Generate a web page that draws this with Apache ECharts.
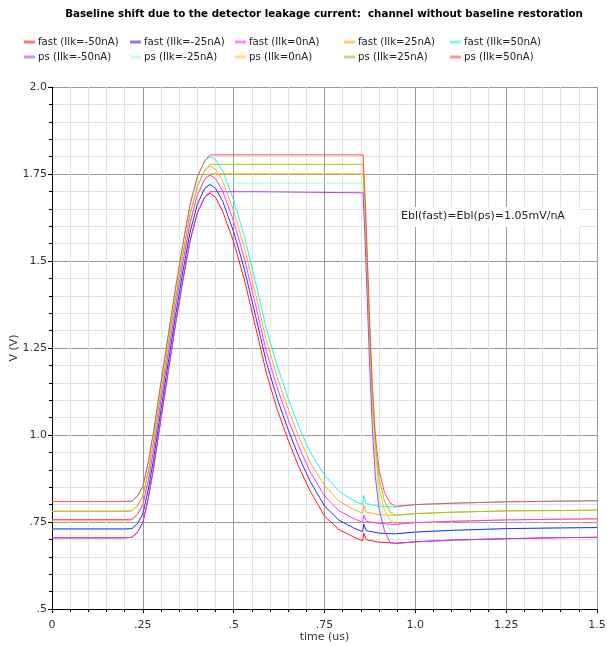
<!DOCTYPE html>
<html><head><meta charset="utf-8">
<script src="https://cdn.jsdelivr.net/npm/echarts@6/dist/echarts.min.js"></script>
<style>html,body{margin:0;padding:0;background:#fff}#c{width:607px;height:646px}</style>
</head><body><div id="c"></div>
<script>
const TITLE = 'Baseline shift due to the detector leakage current:  channel without baseline restoration';
const NOTE = 'Ebl(fast)=Ebl(ps)=1.05mV/nA';
const X_TICKS = {0:'0',0.25:'.25',0.5:'.5',0.75:'.75',1:'1.0',1.25:'1.25',1.5:'1.5'};
const Y_TICKS = {0.5:'.5',0.75:'.75',1:'1.0',1.25:'1.25',1.5:'1.5',1.75:'1.75',2:'2.0'};

const NAMES = ['fast (Ilk=-50nA)','fast (Ilk=-25nA)','fast (Ilk=0nA)','fast (Ilk=25nA)','fast (Ilk=50nA)',
               'ps (Ilk=-50nA)','ps (Ilk=-25nA)','ps (Ilk=0nA)','ps (Ilk=25nA)','ps (Ilk=50nA)'];

const T_FAST = [0,0.2,0.22,0.235,0.25,0.265,0.28,0.30,0.32,0.34,0.36,0.38,0.40,0.42,0.435,0.45,0.47,0.50,0.53,0.56,0.59,0.62,0.65,0.68,0.71,0.75,0.79,0.83,0.855,0.858,0.865,0.90,0.945,1.0,1.1,1.25,1.4,1.5];
const FAST_M50 = [0.7045,0.7045,0.706,0.720,0.748,0.818,0.908,1.048,1.183,1.318,1.443,1.558,1.638,1.683,1.695,1.683,1.642,1.555,1.444,1.312,1.178,1.073,0.985,0.907,0.840,0.767,0.728,0.707,0.696,0.718,0.699,0.692,0.689,0.693,0.698,0.702,0.705,0.706];
const FAST_M25 = [0.730,0.730,0.731,0.745,0.773,0.843,0.933,1.073,1.208,1.343,1.468,1.583,1.663,1.708,1.720,1.709,1.671,1.584,1.474,1.343,1.209,1.104,1.015,0.936,0.868,0.796,0.755,0.733,0.722,0.744,0.725,0.718,0.716,0.721,0.726,0.731,0.733,0.734];
const FAST_0 = [0.757,0.757,0.758,0.772,0.800,0.870,0.960,1.100,1.235,1.370,1.495,1.610,1.690,1.735,1.747,1.737,1.700,1.614,1.505,1.375,1.240,1.135,1.045,0.965,0.895,0.825,0.782,0.760,0.749,0.770,0.752,0.746,0.743,0.748,0.752,0.756,0.758,0.759];
const FAST_P25 = [0.781,0.781,0.782,0.796,0.824,0.894,0.984,1.124,1.259,1.394,1.519,1.634,1.714,1.760,1.773,1.764,1.729,1.644,1.536,1.407,1.272,1.166,1.075,0.993,0.923,0.855,0.810,0.786,0.775,0.798,0.778,0.771,0.769,0.774,0.778,0.782,0.783,0.784];
const FAST_P50 = [0.809,0.809,0.810,0.824,0.852,0.922,1.012,1.152,1.287,1.422,1.547,1.662,1.742,1.787,1.800,1.792,1.758,1.675,1.568,1.440,1.305,1.198,1.105,1.022,0.952,0.885,0.838,0.812,0.800,0.826,0.803,0.795,0.793,0.800,0.804,0.808,0.810,0.811];

const T_PS = [0,0.2,0.22,0.235,0.25,0.265,0.28,0.30,0.32,0.34,0.36,0.38,0.40,0.42,0.435,0.566,0.568,0.856,0.862,0.868,0.875,0.882,0.89,0.90,0.915,0.93,0.945,1.0,1.1,1.25,1.4,1.5];
const PS_M50 = [0.7045,0.7045,0.706,0.720,0.748,0.818,0.908,1.048,1.183,1.318,1.443,1.558,1.638,1.683,1.699,1.699,1.696,1.696,1.55,1.38,1.18,1.01,0.88,0.79,0.725,0.692,0.688,0.693,0.698,0.702,0.705,0.706];
const PS_M25 = [0.730,0.730,0.731,0.745,0.773,0.843,0.933,1.073,1.208,1.343,1.468,1.583,1.663,1.708,1.724,1.724,1.724,1.724,1.59,1.42,1.22,1.05,0.92,0.825,0.758,0.727,0.717,0.721,0.726,0.731,0.733,0.734];
const PS_0 = [0.754,0.754,0.755,0.769,0.797,0.867,0.957,1.097,1.232,1.367,1.492,1.607,1.687,1.733,1.751,1.751,1.751,1.751,1.62,1.45,1.25,1.08,0.95,0.85,0.785,0.755,0.745,0.748,0.752,0.756,0.758,0.759];
const PS_P25 = [0.781,0.781,0.782,0.796,0.824,0.894,0.984,1.124,1.259,1.394,1.519,1.634,1.714,1.760,1.778,1.778,1.778,1.778,1.65,1.48,1.28,1.11,0.975,0.875,0.81,0.78,0.77,0.774,0.778,0.782,0.783,0.784];
const PS_P50 = [0.809,0.809,0.810,0.824,0.852,0.922,1.012,1.152,1.287,1.422,1.547,1.662,1.742,1.787,1.805,1.805,1.805,1.805,1.68,1.51,1.31,1.14,1.00,0.90,0.835,0.805,0.795,0.800,0.804,0.808,0.810,0.811];

const COLORS = ['#ff1a1a','#2a2aff','#ff33ff','#ffaa22','#22f0f0','#aa44ff','#99ffdd','#ffcc11','#99cc22','#ff5050'];
const Z = [2,3,3,2,2,3,2,2,3,3];
const VALUES = [FAST_M50,FAST_M25,FAST_0,FAST_P25,FAST_P50,PS_M50,PS_M25,PS_0,PS_P25,PS_P50];
const TIMES = [T_FAST,T_FAST,T_FAST,T_FAST,T_FAST,T_PS,T_PS,T_PS,T_PS,T_PS];

const FONT = 'DejaVu Sans';
const chart = echarts.init(document.getElementById('c'), null, {renderer:'canvas'});

const LEG_X = [24,130,235,344,450];
const LEG_Y = [37,52];
const legends = NAMES.map((n,i)=>({
  data:[n], left: LEG_X[i%5], top: LEG_Y[Math.floor(i/5)], padding:0,
  icon:'rect', itemWidth:11, itemHeight:3, itemGap:0,
  itemStyle:{opacity:0.6},
  textStyle:{fontFamily:FONT, fontSize:10.2, color:'#222', padding:[0,0,0,-2]}
}));

const series = NAMES.map((n,i)=>({
  name:n, type:'line', showSymbol:false, symbol:'none', z:Z[i],
  lineStyle:{width:1, color:COLORS[i]}, itemStyle:{color:COLORS[i]},
  data: TIMES[i].map((t,k)=>[t, VALUES[i][k]])
}));

chart.setOption({
  animation:false,
  backgroundColor:'#fff',
  title:{text:TITLE, left:324, top:9, textAlign:'center', padding:0,
    textStyle:{fontFamily:FONT, fontSize:10.3, fontWeight:'bold', color:'#000'}},
  legend: legends,
  grid:{left:52, right:10, top:87, bottom:37, containLabel:false, outerBoundsMode:'none'},
  xAxis:{type:'value', min:0, max:1.5, interval:0.25,
    name:'time (us)', nameLocation:'middle', nameGap:23, nameMoveOverlap:false,
    nameTextStyle:{fontFamily:FONT, fontSize:11, color:'#333'},
    axisLine:{show:true, onZero:false, lineStyle:{color:'#000', width:1}},
    axisTick:{show:true, length:4, lineStyle:{color:'#000'}},
    minorTick:{show:true, splitNumber:5, length:3, lineStyle:{color:'#000'}},
    axisLabel:{margin:11, fontFamily:FONT, fontSize:11, color:'#333', formatter:v=>X_TICKS[Math.round(v*100)/100] ?? ''},
    splitLine:{show:true, lineStyle:{color:'#9a9a9a', width:1}},
    minorSplitLine:{show:true, lineStyle:{color:'#e2e2e2', width:1}}
  },
  yAxis:{type:'value', min:0.5, max:2.0, interval:0.25,
    name:'V (V)', nameLocation:'middle', nameGap:32, nameRotate:90, nameMoveOverlap:false,
    nameTextStyle:{fontFamily:FONT, fontSize:11, color:'#333'},
    axisLine:{show:true, onZero:false, lineStyle:{color:'#000', width:1}},
    axisTick:{show:true, length:4, lineStyle:{color:'#000'}},
    minorTick:{show:true, splitNumber:5, length:3, lineStyle:{color:'#000'}},
    axisLabel:{margin:5, fontFamily:FONT, fontSize:11, color:'#333', formatter:v=>Y_TICKS[Math.round(v*100)/100] ?? ''},
    splitLine:{show:true, lineStyle:{color:'#9a9a9a', width:1}},
    minorSplitLine:{show:true, lineStyle:{color:'#e2e2e2', width:1}}
  },
  graphic:[
    {type:'rect', left:398, top:207, z:100, shape:{width:182, height:20}, style:{fill:'#fff'}},
    {type:'text', left:401, top:211, z:101, style:{text:NOTE, fill:'#222', font:'11px "DejaVu Sans"'}}
  ],
  series: series
});
</script></body></html>
